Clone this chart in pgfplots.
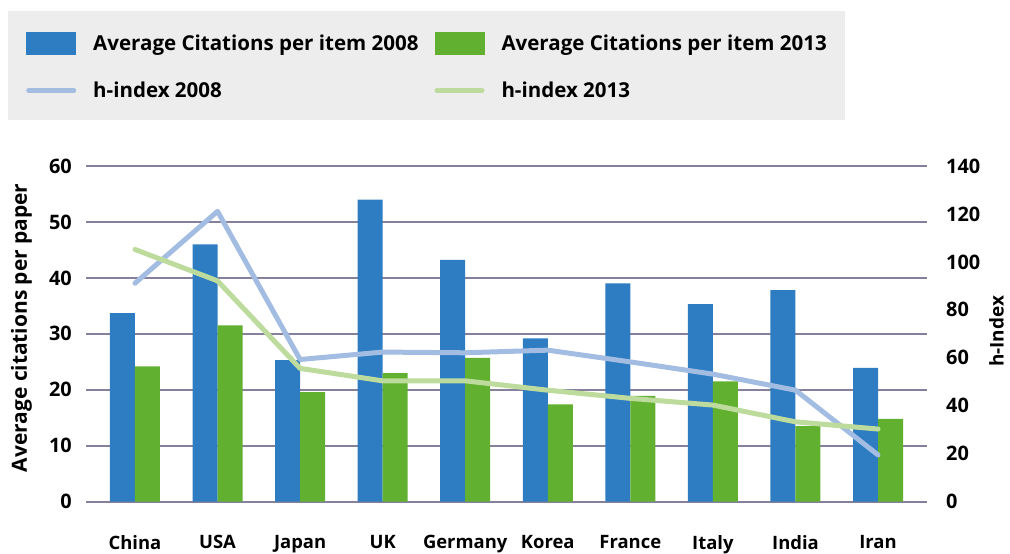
\documentclass[border=0pt]{standalone}
\usepackage{fontspec}
\setmainfont{Open Sans}
\usepackage{pgfplots}
\usepackage{pgfplotstable}
\pgfplotsset{compat=1.18}
\definecolor{barblue}{HTML}{2E7DC2}
\definecolor{bargreen}{HTML}{62B02F}
\definecolor{lineblue}{HTML}{A3BCE2}
\definecolor{linegreen}{HTML}{BCDB9C}
\definecolor{gridc}{HTML}{86809C}
\definecolor{legbg}{HTML}{EDEDED}
\pgfplotstableread{
idx c08 c13 h08 h13
0 33.7 24.2 91.1 105.2
1 46.0 31.5 121.1 92.1
2 25.3 19.6 59.3 55.6
3 54.0 23.0 62.4 50.4
4 43.2 25.7 62.1 50.4
5 29.2 17.4 63.2 46.5
6 39.0 18.9 58.3 43.1
7 35.3 21.5 53.2 40.3
8 37.8 13.5 46.5 33.3
9 23.9 14.8 19.5 30.3
}\datatable
\newcommand{\tickfont}{\fontsize{20}{22}\selectfont\bfseries}
\newcommand{\xtickfont}{\fontsize{18.5}{20}\selectfont\bfseries}
\newcommand{\labfont}{\fontsize{21}{24}\selectfont\bfseries}
\newcommand{\rlabfont}{\fontsize{19}{22}\selectfont\bfseries}
\begin{document}
\begin{tikzpicture}
\begin{axis}[name=main,
  scale only axis, width=841bp, height=335.7bp,
  xmin=-0.593, xmax=9.593, ymin=0, ymax=60,
  ytick={0,10,...,60},
  xtick={0,...,9},
  xticklabels={China,USA,Japan,UK,Germany,Korea,France,Italy,India,Iran},
  ymajorgrids, grid style={draw=gridc, line width=2bp},
  axis line style={draw=none},
  major tick length=0pt,
  ybar=0pt, bar width=25bp,
  /pgf/number format/assume math mode=true,
  yticklabel style={font=\tickfont, inner sep=0pt, xshift=-14bp},
  xticklabel style={font=\xtickfont, yshift=-30bp},
  ylabel={Average citations per paper},
  ylabel style={font=\labfont, at={(axis description cs:-0.0642,0.518)}, anchor=south, inner sep=0pt},
  legend columns=2,
  legend cell align=left,
  legend style={at={(axis description cs:-0.0927,1.4632)}, anchor=north west,
    draw=none, fill=legbg, inner xsep=18bp, inner ysep=21bp,
    font=\fontsize{20.6}{24}\selectfont\bfseries,
    row sep=27bp,
    nodes={inner sep=0pt},
    /tikz/every odd column/.append style={column sep=17bp},
    /tikz/every even column/.append style={column sep=16bp}},
]
\addplot[draw=none, fill=barblue,
  legend image code/.code={\fill[barblue] (0bp,-11.5bp) rectangle (50bp,11.5bp);}]
  table[x=idx,y=c08]{\datatable};
\addlegendentry{Average Citations per item 2008}
\addplot[draw=none, fill=bargreen,
  legend image code/.code={\fill[bargreen] (0bp,-11.5bp) rectangle (50bp,11.5bp);}]
  table[x=idx,y=c13]{\datatable};
\addlegendentry{Average Citations per item 2013}
\addlegendimage{legend image code/.code={\draw[lineblue, line width=5bp, line cap=round] (2.5bp,0bp) -- (47.5bp,0bp);}}
\addlegendentry{h-index 2008}
\addlegendimage{legend image code/.code={\draw[linegreen, line width=5bp, line cap=round] (2.5bp,0bp) -- (47.5bp,0bp);}}
\addlegendentry{h-index 2013}
\end{axis}
\begin{axis}[
  scale only axis, width=841bp, height=335.7bp,
  xmin=-0.593, xmax=9.593, ymin=0, ymax=140,
  ytick={0,20,...,140},
  axis x line=none,
  axis y line*=right,
  axis line style={draw=none},
  major tick length=0pt,
  /pgf/number format/assume math mode=true,
  yticklabel style={font=\tickfont, inner sep=0pt, xshift=19bp},
  ylabel={h-Index},
  ylabel style={font=\rlabfont, at={(axis description cs:1.0737,0.507)}, anchor=north, inner sep=0pt},
]
\addplot[color=lineblue, line width=5bp, line cap=round, line join=round] table[x=idx,y=h08]{\datatable};
\addplot[color=linegreen, line width=5bp, line cap=round, line join=round] table[x=idx,y=h13]{\datatable};
\end{axis}
\pgfresetboundingbox
\useasboundingbox ([shift={(-86bp,-52.3bp)}]main.south west) rectangle ++(1010bp,554bp);
\end{tikzpicture}
\end{document}
